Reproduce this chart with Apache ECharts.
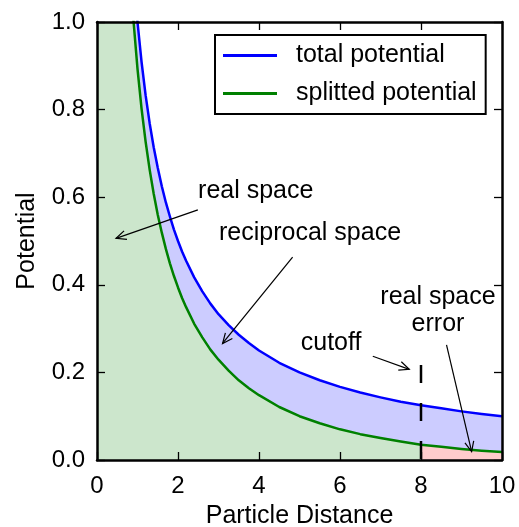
<!DOCTYPE html>
<html>
<head>
<meta charset="utf-8">
<script src="https://cdn.jsdelivr.net/npm/echarts@6/dist/echarts.min.js"></script>
<style>
html,body{margin:0;padding:0;background:#fff;}
#c{width:519px;height:527px;}
</style>
</head>
<body>
<div id="c"></div>
<script>
// ---- data ----
const distance = [0.9, 1, 1.1, 1.2, 1.3, 1.4, 1.5, 1.6, 1.7, 1.8, 1.9, 2, 2.1, 2.2, 2.4, 2.6, 2.8, 3, 3.25, 3.5, 3.75, 4, 4.5, 5, 5.5, 6, 6.5, 7, 7.5, 8, 8.5, 9, 9.5, 10];
const totalPotential = [1.111, 1.0, 0.909, 0.833, 0.769, 0.714, 0.667, 0.625, 0.588, 0.556, 0.526, 0.5, 0.476, 0.455, 0.417, 0.385, 0.357, 0.333, 0.308, 0.286, 0.267, 0.25, 0.222, 0.2, 0.182, 0.167, 0.154, 0.143, 0.133, 0.125, 0.118, 0.111, 0.105, 0.1];
const splitPotential = [1.004, 0.893, 0.802, 0.727, 0.663, 0.608, 0.560, 0.519, 0.482, 0.449, 0.420, 0.394, 0.370, 0.349, 0.311, 0.280, 0.252, 0.229, 0.204, 0.182, 0.164, 0.148, 0.121, 0.100, 0.084, 0.070, 0.059, 0.050, 0.042, 0.035, 0.030, 0.025, 0.021, 0.018];
const cutoff = 8;
const cutoffTop = 0.217;
const xTicks = [0, 2, 4, 6, 8, 10];
const yTicks = [0.0, 0.2, 0.4, 0.6, 0.8, 1.0];
const seriesNames = ['total potential', 'splitted potential'];
// annotations: text, text position [x,y], arrow start [x,y], arrow tip [x,y]
const annoText = ['real space', 'reciprocal space', 'cutoff', 'real space\nerror'];
const annoTextPos = [[3.92, 0.614], [5.26, 0.517], [5.78, 0.268], [8.42, 0.340]];
const annoFrom = [[2.49, 0.571], [4.83, 0.463], [6.81, 0.237], [8.63, 0.263]];
const annoTip = [[0.47, 0.506], [3.10, 0.266], [7.71, 0.207], [9.25, 0.019]];

const FONT = 'Liberation Sans, Arial, sans-serif';
const FS = 24;
const FS2 = 25;

const blueData = distance.map((x, i) => [x, totalPotential[i]]);
const greenData = distance.map((x, i) => [x, splitPotential[i]]);
const yMax = yTicks[yTicks.length - 1];
const greenFill = [[0, yMax]].concat(greenData.filter(d => d[0] <= cutoff));
const redFill = greenData.filter(d => d[0] >= cutoff);

const chart = echarts.init(document.getElementById('c'), null, {renderer: 'canvas'});

const axisCommon = {
  type: 'value',
  z: 10,
  axisLine: {show: true, onZero: false, lineStyle: {color: '#000', width: 2.5}},
  axisTick: {show: true, inside: true, length: 8, lineStyle: {color: '#000', width: 1.3}},
  splitLine: {show: false}
};

chart.setOption({
  animation: false,
  backgroundColor: '#fff',
  grid: {left: 97, right: 17, top: 22, bottom: 67, containLabel: false, outerBoundsMode: 'none'},
  legend: {
    orient: 'vertical',
    left: 215, top: 35,
    data: seriesNames,
    icon: 'rect',
    itemWidth: 54, itemHeight: 3,
    itemGap: 13,
    padding: [8, 9, 8, 8],
    borderColor: '#000', borderWidth: 2,
    backgroundColor: '#fff',
    z: 20,
    textStyle: {fontFamily: FONT, fontSize: FS2, color: '#000', lineHeight: 24, padding: [0, 0, 0, 14]}
  },
  xAxis: [
    Object.assign({}, axisCommon, {
      min: 0, max: 10, interval: 2, position: 'bottom',
      name: 'Particle Distance', nameLocation: 'middle', nameGap: 44,
      nameTextStyle: {fontFamily: FONT, fontSize: FS2, color: '#000'},
      axisLabel: {fontFamily: FONT, fontSize: FS, color: '#000', margin: 14, formatter: v => xTicks.includes(v) ? String(v) : ''}
    }),
    Object.assign({}, axisCommon, {
      min: 0, max: 10, interval: 2, position: 'top', axisLabel: {show: false}
    })
  ],
  yAxis: [
    Object.assign({}, axisCommon, {
      min: 0, max: 1, interval: 0.2, position: 'left',
      name: 'Potential', nameLocation: 'middle', nameGap: 57,
      nameTextStyle: {fontFamily: FONT, fontSize: FS2, color: '#000'},
      axisLabel: {fontFamily: FONT, fontSize: FS, color: '#000', margin: 12, formatter: v => v.toFixed(1)}
    }),
    Object.assign({}, axisCommon, {
      min: 0, max: 1, interval: 0.2, position: 'right', axisLabel: {show: false}
    })
  ],
  series: [
    {
      name: 'blueFill', type: 'line', data: blueData, showSymbol: false, silent: true,
      lineStyle: {width: 0}, areaStyle: {color: '#ccccff', opacity: 1}, z: 1, clip: true
    },
    {
      name: 'greenFill', type: 'line', data: greenFill, showSymbol: false, silent: true,
      lineStyle: {width: 0}, areaStyle: {color: '#cce6cc', opacity: 1}, z: 2, clip: true
    },
    {
      name: 'redFill', type: 'line', data: redFill, showSymbol: false, silent: true,
      lineStyle: {width: 0}, areaStyle: {color: '#ffcccc', opacity: 1}, z: 2, clip: true
    },
    {
      name: seriesNames[0], type: 'line', data: blueData, showSymbol: false,
      lineStyle: {color: '#0000ff', width: 2.5, join: 'round'}, itemStyle: {color: '#0000ff'}, z: 4, clip: true
    },
    {
      name: seriesNames[1], type: 'line', data: greenData, showSymbol: false,
      lineStyle: {color: '#008000', width: 2.5, join: 'round'}, itemStyle: {color: '#008000'}, z: 4, clip: true
    },
    {
      name: 'cutoffLine', type: 'line', data: [[cutoff, cutoffTop], [cutoff, 0]], showSymbol: false,
      lineStyle: {color: '#000', width: 2.5, type: [18, 20]}, z: 5, clip: true
    }
  ]
});

// annotations with open arrowheads
function addAnnotations() {
  const els = [];
  for (let i = 0; i < annoText.length; i++) {
    const tp = chart.convertToPixel({xAxisIndex: 0, yAxisIndex: 0}, annoTextPos[i]);
    const a = chart.convertToPixel({xAxisIndex: 0, yAxisIndex: 0}, annoFrom[i]);
    const b = chart.convertToPixel({xAxisIndex: 0, yAxisIndex: 0}, annoTip[i]);
    els.push({
      type: 'text', z: 10, x: tp[0], y: tp[1],
      style: {text: annoText[i], fontFamily: FONT, fontSize: FS2, fill: '#000', align: 'center', verticalAlign: 'middle', lineHeight: 27}
    });
    els.push({type: 'line', z: 10, shape: {x1: a[0], y1: a[1], x2: b[0], y2: b[1]}, style: {stroke: '#000', lineWidth: 1.2}});
    const ang = Math.atan2(b[1] - a[1], b[0] - a[0]);
    const L = 11, w = 0.42;
    const p1 = [b[0] - L * Math.cos(ang - w), b[1] - L * Math.sin(ang - w)];
    const p2 = [b[0] - L * Math.cos(ang + w), b[1] - L * Math.sin(ang + w)];
    els.push({type: 'polyline', z: 10, shape: {points: [p1, b, p2]}, style: {stroke: '#000', lineWidth: 1.2, fill: null}});
  }
  chart.setOption({graphic: els});
}
addAnnotations();
</script>
</body>
</html>
